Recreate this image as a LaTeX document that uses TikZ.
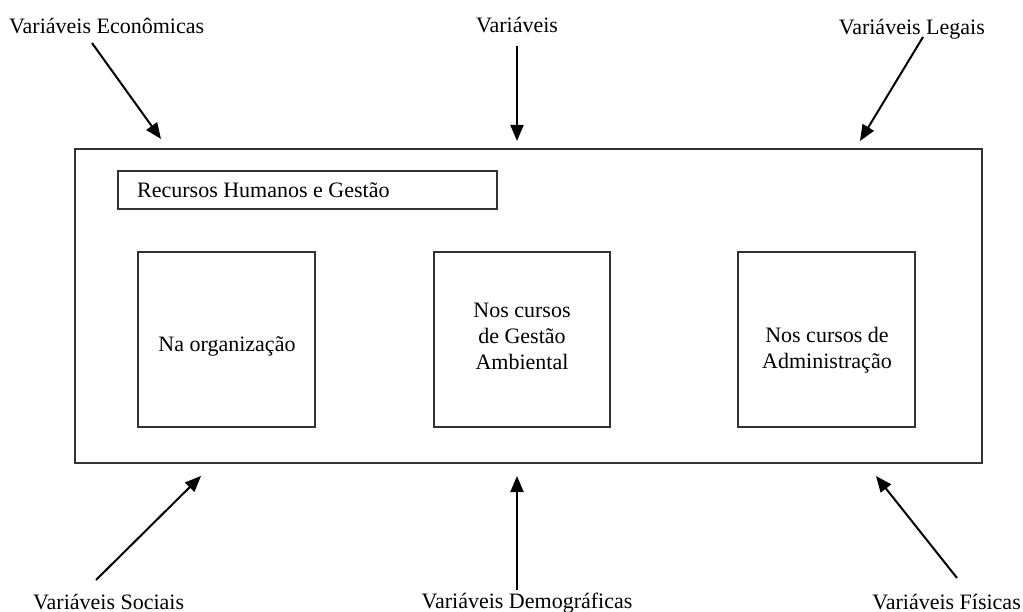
\documentclass[tikz,border=0pt]{standalone}
\usepackage{fontspec}
\setmainfont{Liberation Serif}
\usetikzlibrary{arrows.meta}
\begin{document}
\begin{tikzpicture}[x=1pt,y=-1pt,
  frame/.style={draw=black!80,line width=1.4pt},
  label/.style={font=\fontsize{22}{25}\selectfont,inner sep=0pt},
  boxtext/.style={font=\fontsize{22}{26}\selectfont,align=center,inner sep=0pt},
  influence/.style={line width=2pt,-{Triangle[length=16pt,width=13pt]}}]
\useasboundingbox (0,0) rectangle (1023,612);
% main frame and inner boxes
\draw[frame] (75,149) rectangle (982,463);
\draw[frame] (118,171) rectangle (497,209);
\node[label,anchor=base west] (rh) at (137,198) {Recursos Humanos e Gestão};
\draw[frame] (138,252) rectangle (315,427);
\draw[frame] (434,252) rectangle (610,427);
\draw[frame] (738,252) rectangle (915,427);
\node[boxtext] (org) at (227,346) {Na organização};
\node[boxtext] (gam) at (522,336) {Nos cursos\\de Gestão\\Ambiental};
\node[boxtext] (adm) at (827,350) {Nos cursos de\\Administração};
% external variables
\node[label,anchor=base west] (eco) at (9,34) {Variáveis Econômicas};
\node[label,anchor=base] (var) at (517,33) {Variáveis};
\node[label,anchor=base east] (leg) at (985,35) {Variáveis Legais};
\node[label,anchor=base west] (soc) at (33,609) {Variáveis Sociais};
\node[label,anchor=base] (dem) at (527,608) {Variáveis Demográficas};
\node[label,anchor=base east] (fis) at (1021,609) {Variáveis Físicas};
% arrow ends
\coordinate (ecoT) at (92,43);   \coordinate (ecoH) at (161,139);
\coordinate (varT) at (517,46);  \coordinate (varH) at (517,141);
\coordinate (legT) at (923,37);  \coordinate (legH) at (860,141);
\coordinate (socT) at (96,580);  \coordinate (socH) at (201,476);
\coordinate (demT) at (517,590); \coordinate (demH) at (517,476);
\coordinate (fisT) at (957,578); \coordinate (fisH) at (876,476);
\draw[influence] (ecoT) -- (ecoH);
\draw[influence] (varT) -- (varH);
\draw[influence] (legT) -- (legH);
\draw[influence] (socT) -- (socH);
\draw[influence] (demT) -- (demH);
\draw[influence] (fisT) -- (fisH);
\end{tikzpicture}
\end{document}
